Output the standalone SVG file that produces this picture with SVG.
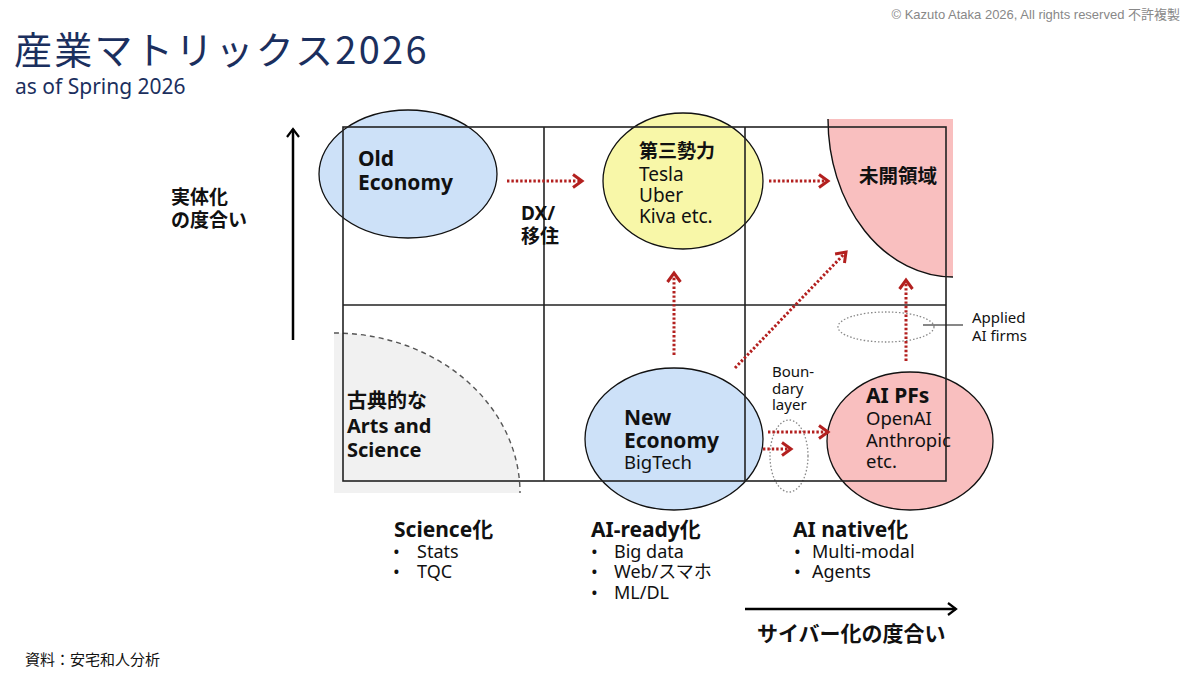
<svg xmlns="http://www.w3.org/2000/svg" width="1200" height="675" viewBox="0 0 1200 675">
<defs>
<style>
text{font-family:"Noto Sans","Noto Sans CJK JP",sans-serif;fill:#111}
.b{font-weight:700}
.t{font-family:"Noto Sans CJK JP","Noto Sans",sans-serif;fill:#1b2f5e}
.grid{fill:none;stroke:#222;stroke-width:1.6}
.ell{stroke:#111;stroke-width:1.3}
.arr{fill:none;stroke:#b3201f;stroke-width:3;stroke-dasharray:2.4 2;marker-end:url(#ah)}
.dot{fill:none;stroke:#888;stroke-width:1.3;stroke-dasharray:1.5 2}
.ax{fill:none;stroke:#000;stroke-width:2.5;marker-end:url(#ak)}
</style>
<marker id="ah" markerUnits="userSpaceOnUse" markerWidth="16" markerHeight="18" refX="12" refY="9" orient="auto">
<path d="M3,2.5 L12,9 L3,15.5" fill="none" stroke="#b3201f" stroke-width="3"/>
</marker>
<marker id="ak" markerUnits="userSpaceOnUse" markerWidth="16" markerHeight="18" refX="12" refY="9" orient="auto">
<path d="M4,3 L12,9 L4,15" fill="none" stroke="#000" stroke-width="2.2"/>
</marker>
</defs>
<rect width="1200" height="675" fill="#fff"/>

<text x="1180" y="19" text-anchor="end" style="font-family:'Liberation Sans','Noto Sans CJK JP',sans-serif;fill:#888;font-size:13px">© Kazuto Ataka 2026, All rights reserved 不許複製</text>
<text class="t" x="14" y="64" style="font-size:38px;letter-spacing:2.3px">産業マトリックス2026</text>
<text class="t" x="15" y="94" style="font-size:21px;font-family:'Noto Sans',sans-serif">as of Spring 2026</text>

<g id="region-classic">
<path d="M334,333 A186,160 0 0 1 520,493 L334,493 Z" fill="#f1f1f1"/>
<path d="M334,333 A186,160 0 0 1 520,493" fill="none" stroke="#555" stroke-width="1.4" stroke-dasharray="5 4"/>
<text class="b" x="347" y="408" style="font-size:20px">古典的な</text>
<text class="b" x="347" y="433" style="font-size:20px">Arts and</text>
<text class="b" x="347" y="457" style="font-size:20px">Science</text>
</g>

<g id="region-unexplored">
<path d="M828,119 A125,158 0 0 0 953,277 L953,119 Z" fill="#f9bfbf"/>
<path d="M828,119 A125,158 0 0 0 953,277" fill="none" stroke="#111" stroke-width="1.4"/>
<text class="b" x="859" y="183" style="font-size:19.5px">未開領域</text>
</g>

<g id="node-old">
<ellipse class="ell" cx="408" cy="174" rx="89" ry="64" fill="#cde1f8"/>
<text class="b" x="358" y="166" style="font-size:21px">Old</text>
<text class="b" x="358" y="190" style="font-size:21px">Economy</text>
</g>

<g id="node-third">
<ellipse class="ell" cx="683" cy="181" rx="80" ry="68" fill="#f8f7a8"/>
<text class="b" x="639" y="158" style="font-size:19px">第三勢力</text>
<text x="639" y="181" style="font-size:19px">Tesla</text>
<text x="639" y="202" style="font-size:19px">Uber</text>
<text x="639" y="223" style="font-size:19px">Kiva etc.</text>
</g>

<g id="node-new">
<ellipse class="ell" cx="674" cy="439" rx="89" ry="71" fill="#cde1f8"/>
<text class="b" x="624" y="425" style="font-size:21px">New</text>
<text class="b" x="624" y="448" style="font-size:21px">Economy</text>
<text x="624" y="469" style="font-size:18.5px">BigTech</text>
</g>

<g id="node-aipf">
<ellipse class="ell" cx="910" cy="441" rx="83" ry="69" fill="#f9bfbf"/>
<text class="b" x="866" y="403" style="font-size:21px">AI PFs</text>
<text x="866" y="425" style="font-size:18.5px">OpenAI</text>
<text x="866" y="447" style="font-size:18.5px">Anthropic</text>
<text x="866" y="468" style="font-size:18.5px">etc.</text>
</g>

<g id="node-boundary">
<ellipse class="dot" cx="789" cy="456" rx="19" ry="36"/>
<text x="772" y="377" style="font-size:15px">Boun-</text>
<text x="772" y="394" style="font-size:15px">dary</text>
<text x="772" y="410" style="font-size:15px">layer</text>
</g>

<g id="node-applied">
<ellipse class="dot" cx="886" cy="327" rx="48" ry="15"/>
<line x1="923" y1="325" x2="963" y2="325" stroke="#111" stroke-width="1.2"/>
<text x="972" y="323" style="font-size:15px">Applied</text>
<text x="972" y="341" style="font-size:15px">AI firms</text>
</g>

<g id="grid">
<rect class="grid" x="343" y="127" width="603" height="354"/>
<line class="grid" x1="544" y1="127" x2="544" y2="481"/>
<line class="grid" x1="745" y1="127" x2="745" y2="481"/>
<line class="grid" x1="343" y1="305" x2="946" y2="305"/>
</g>

<g id="label-dx">
<text class="b" x="521" y="220" style="font-size:19px">DX/</text>
<text class="b" x="521" y="243" style="font-size:19px">移住</text>
</g>

<g id="connectors">
<line class="arr" x1="507" y1="181" x2="582" y2="181"/>
<line class="arr" x1="769" y1="181" x2="828" y2="181"/>
<line class="arr" x1="674" y1="355" x2="674" y2="273"/>
<line class="arr" x1="735" y1="368" x2="846" y2="252"/>
<line class="arr" x1="906" y1="361" x2="906" y2="280"/>
<line class="arr" x1="763" y1="449" x2="791" y2="449"/>
<line class="arr" x1="768" y1="432" x2="828" y2="432"/>
<line class="ax" x1="293" y1="340" x2="293" y2="129"/>
<line class="ax" x1="745" y1="609" x2="956" y2="609"/>
</g>

<g id="axis-labels">
<text class="b" x="171" y="204" style="font-size:19px">実体化</text>
<text class="b" x="171" y="227" style="font-size:19px">の度合い</text>
<text class="b" x="757" y="641" style="font-size:21px">サイバー化の度合い</text>
</g>

<g id="labels-bottom">
<text class="b" x="394" y="537" style="font-size:21px">Science化</text>
<text x="393" y="558" style="font-size:18px">•</text><text x="417" y="558" style="font-size:18px">Stats</text>
<text x="393" y="578" style="font-size:18px">•</text><text x="417" y="578" style="font-size:18px">TQC</text>
<text class="b" x="591" y="537" style="font-size:21px">AI-ready化</text>
<text x="591" y="558" style="font-size:18px">•</text><text x="614" y="558" style="font-size:18px">Big data</text>
<text x="591" y="578" style="font-size:18px">•</text><text x="614" y="578" style="font-size:18px">Web/スマホ</text>
<text x="591" y="599" style="font-size:18px">•</text><text x="614" y="599" style="font-size:18px">ML/DL</text>
<text class="b" x="793" y="537" style="font-size:21px">AI native化</text>
<text x="794" y="558" style="font-size:18px">•</text><text x="812" y="558" style="font-size:18px">Multi-modal</text>
<text x="794" y="578" style="font-size:18px">•</text><text x="812" y="578" style="font-size:18px">Agents</text>
</g>

<text x="25" y="665" style="font-size:15px;font-family:'Noto Sans CJK JP',sans-serif">資料：安宅和人分析</text>
</svg>
